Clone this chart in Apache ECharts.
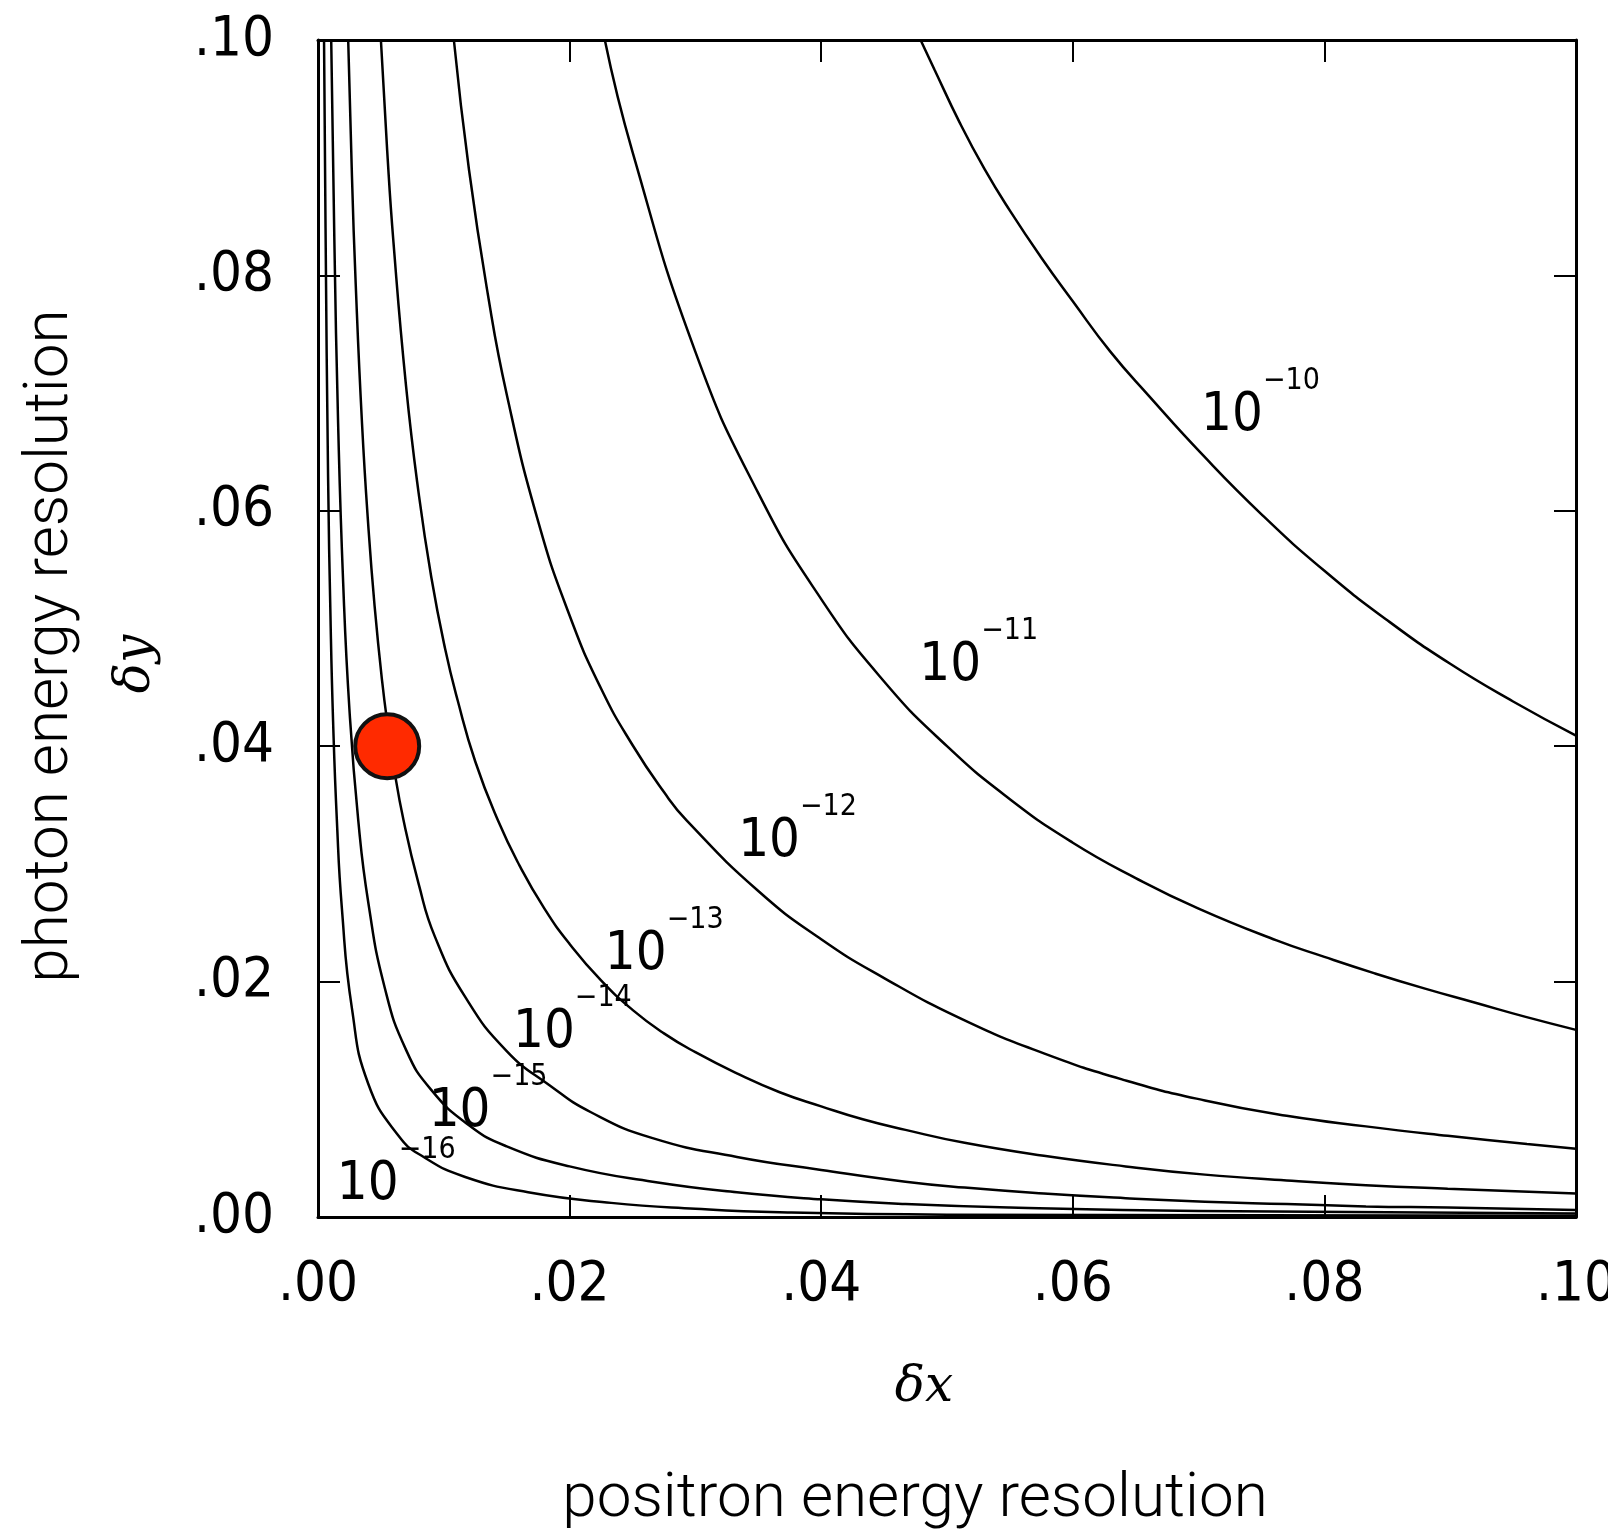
<!DOCTYPE html>
<html><head><meta charset="utf-8">
<script src="https://cdn.jsdelivr.net/npm/echarts@6/dist/echarts.min.js"></script>
<style>html,body{margin:0;padding:0;background:#fff}#c{width:1608px;height:1530px}</style>
</head><body><div id="c"></div>
<script>
// tick labels
const tickLabels = ['.00', '.02', '.04', '.06', '.08', '.10'];
// contour labels (10^exp); anchor = left edge of "10", in data units
const contourExponents = ['\u221210', '\u221211', '\u221212', '\u221213', '\u221214', '\u221215', '\u221216'];
const contourLabelX = [0.0702, 0.0478, 0.0334, 0.0228, 0.0155, 0.0088, 0.0015];
const contourLabelY = [0.0690, 0.0478, 0.0328, 0.0232, 0.0166, 0.0099, 0.0037];
// contour lines [δx, δy]
const c10 = [[0.0479,0.1],[0.049,0.0975],[0.051,0.093],[0.053,0.089],[0.055,0.0855],[0.0575,0.0815],[0.06,0.0778],[0.063,0.0735],[0.0661,0.0697],[0.0701,0.065],[0.075,0.0597],[0.08,0.0549],[0.085,0.0507],[0.09,0.047],[0.095,0.0438],[0.1,0.0409]];
const c11 = [[0.0228,0.1],[0.025,0.0905],[0.03,0.0735],[0.035,0.0615],[0.04,0.0525],[0.045,0.0455],[0.05,0.040],[0.055,0.0355],[0.06,0.0318],[0.065,0.0288],[0.07,0.0262],[0.0762,0.0235],[0.08,0.0221],[0.084,0.0207],[0.088,0.0194],[0.092,0.0182],[0.096,0.017],[0.1,0.0159]];
const c12 = [[0.0108,0.1],[0.012,0.089],[0.0135,0.0784],[0.015,0.0699],[0.0175,0.0591],[0.02,0.0511],[0.0225,0.0449],[0.025,0.0401],[0.0275,0.0361],[0.0293,0.0337],[0.035,0.0277],[0.04,0.0236],[0.045,0.0203],[0.0514,0.0167],[0.0577,0.0139],[0.0642,0.0116],[0.0705,0.0099],[0.077,0.0086],[0.0833,0.0077],[0.0898,0.0069],[0.0961,0.0062],[0.1,0.0058]];
const c13 = [[0.005,0.1],[0.0055,0.0906],[0.006,0.0828],[0.007,0.0706],[0.008,0.0615],[0.009,0.0544],[0.0101,0.0483],[0.0111,0.0439],[0.0125,0.0387],[0.0143,0.0337],[0.016,0.0299],[0.018,0.0262],[0.02,0.0232],[0.0225,0.0201],[0.025,0.0176],[0.0275,0.0156],[0.03,0.014],[0.0333,0.0122],[0.0367,0.0106],[0.04,0.0094],[0.0433,0.0083],[0.0467,0.0074],[0.0514,0.0063],[0.0577,0.0052],[0.0642,0.0043],[0.0705,0.0036],[0.077,0.0031],[0.0833,0.0027],[0.0898,0.0024],[0.1,0.002]];
const c14 = [[0.0024,0.1],[0.0027,0.0884],[0.003,0.0792],[0.0035,0.0674],[0.004,0.0587],[0.0045,0.0519],[0.0051,0.0455],[0.0056,0.0413],[0.006,0.0384],[0.0068,0.0337],[0.008,0.0283],[0.0093,0.0238],[0.0117,0.0187],[0.015,0.0141],[0.0184,0.0112],[0.0217,0.0089],[0.0266,0.0067],[0.0333,0.0051],[0.04,0.004],[0.0467,0.003],[0.0514,0.0025],[0.0577,0.002],[0.0642,0.0016],[0.0705,0.0013],[0.077,0.0011],[0.0833,0.0009],[0.0898,0.0008],[0.1,0.0006]];
const c15 = [[0.00105,0.1],[0.0013,0.083],[0.0016,0.0674],[0.002,0.0539],[0.0025,0.0431],[0.0032,0.0337],[0.004,0.0267],[0.0053,0.0195],[0.007,0.0142],[0.009,0.0108],[0.012,0.0078],[0.015,0.006],[0.02,0.0043],[0.0266,0.003],[0.0333,0.0021],[0.04,0.0015],[0.0467,0.0011],[0.055,0.0008],[0.07,0.0005],[0.1,0.0003]];
const c16 = [[0.00048,0.1],[0.0006,0.084],[0.0008,0.063],[0.001,0.0506],[0.0012,0.0421],[0.0015,0.0337],[0.0019,0.0262],[0.0027,0.0177],[0.004,0.0113],[0.0064,0.0069],[0.0084,0.0051],[0.0117,0.0034],[0.0167,0.0021],[0.0233,0.0012],[0.03,0.0007],[0.0367,0.0004],[0.05,0.0002],[0.1,0.0001]];
// highlighted design point
const designPoint = [[0.0055, 0.040]];

const contours = [c10, c11, c12, c13, c14, c15, c16];
const NARROW = "'Liberation Sans Narrow','DejaVu Sans Condensed','Arial Narrow',sans-serif";
const fmt = v => tickLabels[Math.round(v / 0.02)];

function xAx(pos, showLabel) {
  return {
    type: 'value', position: pos, min: 0, max: 0.1, interval: 0.02,
    axisLine: { show: true, onZero: false, lineStyle: { color: '#000', width: 3 } },
    axisTick: { show: true, inside: true, length: 22, lineStyle: { color: '#000', width: 2 } },
    axisLabel: { show: showLabel, formatter: fmt, margin: 38, color: '#000', fontFamily: NARROW, fontSize: 56, lineHeight: 60, showMinLabel: true, showMaxLabel: true, hideOverlap: false },
    splitLine: { show: false }
  };
}
function yAx(pos, showLabel) {
  return {
    type: 'value', position: pos, min: 0, max: 0.1, interval: 0.02,
    axisLine: { show: true, onZero: false, lineStyle: { color: '#000', width: 3 } },
    axisTick: { show: true, inside: true, length: 22, lineStyle: { color: '#000', width: 2 } },
    axisLabel: { show: showLabel, formatter: fmt, margin: 44, color: '#000', fontFamily: NARROW, fontSize: 56, lineHeight: 60, showMinLabel: true, showMaxLabel: true, hideOverlap: false },
    splitLine: { show: false }
  };
}

const series = contours.map(d => ({
  type: 'line', data: d, xAxisIndex: 0, yAxisIndex: 0,
  showSymbol: false, symbol: 'none', smooth: 0.5,
  lineStyle: { color: '#000', width: 2.5 }, silent: true, z: 2, animation: false
}));
series.push({
  type: 'scatter', xAxisIndex: 0, yAxisIndex: 0, symbolSize: 0, symbol: 'circle',
  itemStyle: { color: '#000', opacity: 1 }, silent: true, z: 3, animation: false,
  data: contourLabelX.map((x, i) => [x, contourLabelY[i], contourExponents[i]]),
  label: {
    show: true, position: [0, 0], align: 'left', verticalAlign: 'middle', color: '#000',
    textBorderWidth: 0, opacity: 1,
    formatter: p => '{b|10}{s|' + p.data[2] + '}',
    rich: {
      b: { fontFamily: NARROW, fontSize: 54, lineHeight: 77, verticalAlign: 'bottom', color: '#000', textBorderWidth: 0 },
      s: { fontFamily: NARROW, fontSize: 30, lineHeight: 30, verticalAlign: 'top', color: '#000', textBorderWidth: 0 }
    }
  }
});
series.push({
  type: 'scatter', xAxisIndex: 0, yAxisIndex: 0, data: designPoint,
  symbol: 'circle', symbolSize: 64, z: 10, animation: false,
  itemStyle: { color: '#FF2A00', borderColor: '#111', borderWidth: 4, opacity: 1 }
});

const chart = echarts.init(document.getElementById('c'), null, { renderer: 'canvas' });
chart.setOption({
  backgroundColor: '#fff',
  animation: false,
  grid: { left: 318, right: 32, top: 40, bottom: 313, containLabel: false, outerBoundsMode: 'none' },
  xAxis: [xAx('bottom', true), xAx('top', false)],
  yAxis: [yAx('left', true), yAx('right', false)],
  series: series,
  graphic: [
    { type: 'text', x: 915, y: 1500, silent: true,
      style: { text: 'positron energy resolution', fontFamily: 'Roboto, sans-serif', fontWeight: 300, fontSize: 62, fill: '#000', align: 'center', verticalAlign: 'middle' } },
    { type: 'text', x: 51, y: 646, rotation: Math.PI / 2, silent: true,
      style: { text: 'photon energy resolution', fontFamily: 'Roboto, sans-serif', fontWeight: 300, fontSize: 62, fill: '#000', align: 'center', verticalAlign: 'middle' } },
    { type: 'text', x: 924, y: 1388, silent: true,
      style: { text: '\u03B4x', fontFamily: "'DejaVu Serif', serif", fontStyle: 'italic', fontSize: 50, fill: '#000', align: 'center', verticalAlign: 'middle' } },
    { type: 'text', x: 136, y: 664, rotation: Math.PI / 2, silent: true,
      style: { text: '\u03B4y', fontFamily: "'DejaVu Serif', serif", fontStyle: 'italic', fontSize: 50, fill: '#000', align: 'center', verticalAlign: 'middle' } }
  ]
});
</script>
</body></html>
